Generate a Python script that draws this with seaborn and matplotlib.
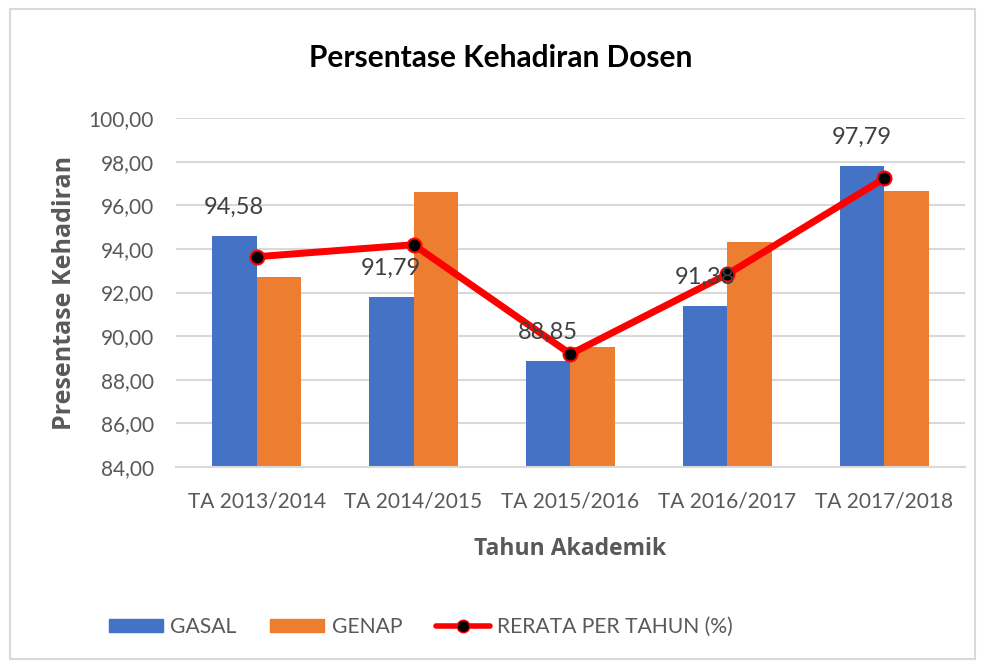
import pandas as pd
import matplotlib.pyplot as plt
import seaborn as sns
from matplotlib.patches import Rectangle, Patch
from matplotlib.lines import Line2D
from matplotlib.ticker import FuncFormatter

# data
tahun = ['TA 2013/2014', 'TA 2014/2015', 'TA 2015/2016', 'TA 2016/2017', 'TA 2017/2018']
gasal = [94.58, 91.79, 88.85, 91.38, 97.79]
genap = [92.69, 96.59, 89.51, 94.30, 96.67]
rerata = [93.64, 94.19, 89.18, 92.84, 97.23]

df = pd.DataFrame({'Tahun': tahun * 2,
                   'Semester': ['GASAL'] * 5 + ['GENAP'] * 5,
                   'Nilai': gasal + genap})

sns.set_style('white')
plt.rcParams['font.family'] = ['Lato', 'DejaVu Sans']
abu = '#595959'

fig = plt.figure(figsize=(9.84, 6.67), dpi=100)
ax = fig.add_axes([176 / 984, 1 - 467 / 667, (965 - 176) / 984, (467 - 118) / 667])

sns.barplot(data=df, x='Tahun', y='Nilai', hue='Semester', width=0.57,
            palette=['#4472C4', '#ED7D31'], saturation=1, linewidth=0,
            ax=ax, legend=False)
ax.plot(range(len(tahun)), rerata, color='#FF0000', lw=5, marker='o',
        markersize=10, markerfacecolor='black', markeredgecolor='#FF0000',
        markeredgewidth=1.5, zorder=5)

# label GASAL (di atas batang biru)
for i, v in enumerate(gasal):
    ax.annotate(f'{v:.2f}'.replace('.', ','), (i - 0.1425, v), xytext=(0, 21),
                textcoords='offset points', ha='center', va='center',
                fontsize=17, color='#404040', zorder=6)

ax.set_ylim(84, 100)
ax.set_yticks(range(84, 101, 2))
ax.yaxis.set_major_formatter(FuncFormatter(lambda v, p: f'{v:.2f}'.replace('.', ',')))
ax.grid(axis='y', color='#D9D9D9', lw=1.5)
ax.set_axisbelow(True)
for s in ['top', 'right', 'left']:
    ax.spines[s].set_visible(False)
ax.spines['bottom'].set_color('#D9D9D9')
ax.spines['bottom'].set_linewidth(1.5)
ax.tick_params(axis='both', length=0, labelsize=15, colors=abu)
ax.tick_params(axis='x', pad=18)
ax.tick_params(axis='y', pad=16)

ax.set_xlabel('Tahun Akademik', fontsize=16.5, fontweight='bold', color=abu,
              family='Open Sans', labelpad=18)
ax.set_ylabel('Presentase Kehadiran', fontsize=18, fontweight='bold', color=abu,
              family='Open Sans', labelpad=8)
fig.text(501 / 984, 1 - 58 / 667, 'Persentase Kehadiran Dosen', ha='center', va='center',
         fontsize=21.5, fontweight='bold', color='black')

handles = [Patch(color='#4472C4'), Patch(color='#ED7D31'),
           Line2D([], [], color='#FF0000', lw=4, marker='o', markersize=9,
                  markerfacecolor='black', markeredgecolor='#FF0000')]
fig.legend(handles, ['GASAL', 'GENAP', 'RERATA PER TAHUN (%)'], loc='center',
           bbox_to_anchor=(421 / 984, 1 - 627 / 667), ncol=3, frameon=False,
           fontsize=15.2, labelcolor=abu, handlelength=2.55, handleheight=0.6,
           columnspacing=1.6, handletextpad=0.35)

fig.patches.append(Rectangle((10 / 984, 8 / 667), 965 / 984, 650 / 667,
                             transform=fig.transFigure, fill=False,
                             edgecolor='#D9D9D9', lw=1.5))

plt.savefig('out.png', dpi=100)
